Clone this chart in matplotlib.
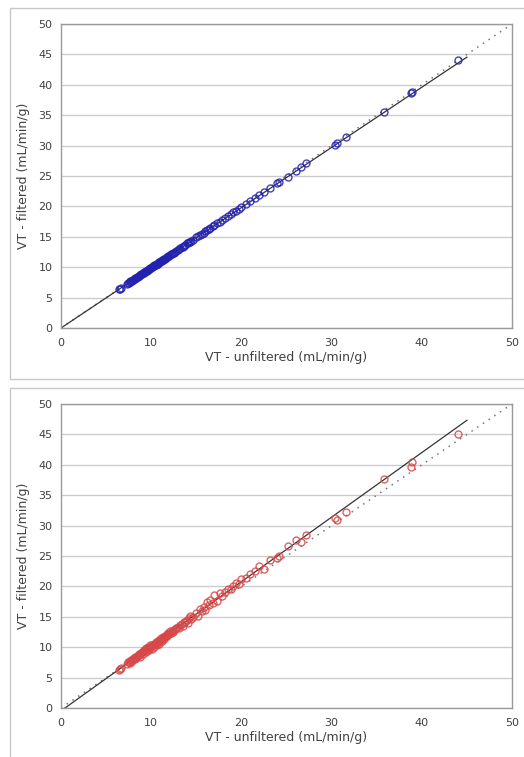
import matplotlib
matplotlib.use("Agg")
import matplotlib.pyplot as plt
from matplotlib.patches import Rectangle
import numpy as np

# Shared unfiltered VT values (x)
vt_unfiltered = [6.4, 6.5, 6.6, 7.3, 7.4, 7.5, 7.6, 7.7, 7.8, 7.9, 8.0, 8.1, 8.2, 8.25, 8.3, 8.4, 8.5, 8.6, 8.7, 8.75,
                 8.8, 8.9, 9.0, 9.1, 9.15, 9.2, 9.3, 9.4, 9.45, 9.5, 9.6, 9.7, 9.75, 9.8, 9.9, 10.0, 10.05, 10.1, 10.2, 10.3,
                 10.35, 10.4, 10.5, 10.6, 10.65, 10.7, 10.8, 10.85, 10.9, 11.0, 11.1, 11.15, 11.2, 11.3, 11.4, 11.45, 11.5, 11.6, 11.7, 11.8,
                 11.9, 12.0, 12.1, 12.2, 12.3, 12.4, 12.5, 12.6, 12.8, 13.0, 13.1, 13.2, 13.4, 13.5, 13.6, 13.8, 14.0, 14.1, 14.2, 14.3,
                 14.4, 14.6, 15.0, 15.2, 15.4, 15.6, 15.8, 16.0, 16.2, 16.4, 16.5, 16.8, 17.0, 17.3, 17.6, 17.9, 18.2, 18.5, 18.8, 19.1,
                 19.4, 19.7, 20.0, 20.5, 21.0, 21.5, 22.0, 22.5, 23.2, 24.0, 24.2, 25.2, 26.0, 26.6, 27.2, 30.4, 30.6, 31.6, 35.8, 38.8,
                 38.9, 44.0]

# Filtered VT values, top chart (blue)
vt_filtered_a = [6.35, 6.45, 6.55, 7.25, 7.35, 7.45, 7.5, 7.65, 7.75, 7.8, 7.95, 8.05, 8.1, 8.2, 8.25, 8.35, 8.4, 8.55, 8.6, 8.7,
                 8.75, 8.8, 8.95, 9.0, 9.1, 9.15, 9.2, 9.35, 9.4, 9.4, 9.55, 9.6, 9.7, 9.75, 9.8, 9.95, 10.0, 10.0, 10.15, 10.2,
                 10.3, 10.35, 10.4, 10.55, 10.6, 10.6, 10.75, 10.8, 10.85, 10.9, 11.0, 11.1, 11.15, 11.2, 11.35, 11.4, 11.4, 11.55, 11.6, 11.7,
                 11.85, 11.9, 12.0, 12.1, 12.2, 12.3, 12.4, 12.5, 12.7, 12.9, 13.0, 13.1, 13.3, 13.4, 13.5, 13.7, 13.9, 14.0, 14.1, 14.2,
                 14.3, 14.5, 14.9, 15.1, 15.3, 15.5, 15.7, 15.9, 16.1, 16.3, 16.4, 16.7, 16.9, 17.2, 17.5, 17.8, 18.1, 18.4, 18.7, 19.0,
                 19.3, 19.6, 19.9, 20.4, 20.9, 21.4, 21.9, 22.3, 23.0, 23.8, 24.0, 24.9, 25.9, 26.5, 27.1, 30.1, 30.5, 31.4, 35.6, 38.7,
                 38.8, 44.0]

# Filtered VT values, bottom chart (red)
vt_filtered_b = [6.3, 6.4, 6.5, 7.3, 7.5, 7.6, 7.4, 7.8, 7.9, 7.7, 8.1, 8.2, 8.4, 8.0, 8.3, 8.6, 8.5, 8.9, 8.7, 8.4,
                 8.9, 9.1, 9.2, 8.9, 9.5, 9.3, 9.6, 9.2, 9.9, 9.6, 9.8, 10.1, 9.5, 9.9, 10.3, 10.1, 9.7, 10.4, 10.3, 10.6,
                 10.0, 10.5, 10.8, 10.7, 10.3, 11.0, 10.9, 10.5, 11.2, 11.1, 11.5, 11.3, 11.0, 11.6, 11.7, 11.4, 11.9, 11.8, 12.2, 11.9,
                 12.3, 12.1, 12.6, 12.4, 12.7, 12.5, 12.9, 13.0, 13.2, 13.4, 13.1, 13.7, 13.8, 13.5, 14.2, 14.1, 14.5, 13.9, 14.8, 15.1,
                 14.6, 14.9, 15.6, 15.2, 16.3, 15.9, 16.6, 16.2, 17.4, 16.9, 17.8, 17.3, 18.6, 17.6, 18.9, 18.4, 19.0, 19.5, 19.6, 20.1,
                 20.6, 20.4, 21.2, 21.4, 22.0, 22.6, 23.3, 22.9, 24.4, 24.6, 25.0, 26.7, 27.6, 27.3, 28.5, 31.2, 30.9, 32.3, 37.7, 39.6,
                 40.4, 45.1]

# Linear trendlines (slope, intercept) and extent
fit_a = (0.99, 0.0)
fit_b = (1.062, -0.47)
fit_x_range = [0, 45]
identity_range = [0, 50]

ticks = [0, 5, 10, 15, 20, 25, 30, 35, 40, 45, 50]
xticks = [0, 10, 20, 30, 40, 50]

W, H = 524, 757
fig = plt.figure(figsize=(W / 100, H / 100), dpi=100)
fig.patch.set_facecolor("white")

# panel frames
for (x0, y0, x1, y1) in [(10, 8, 530, 379), (10, 388, 530, 770)]:
    fig.patches.append(Rectangle((x0 / W, 1 - y1 / H), (x1 - x0) / W, (y1 - y0) / H,
                                 transform=fig.transFigure, fill=False,
                                 edgecolor="#c8c8c8", linewidth=1.0))

def make(ax, yvals, color, fit):
    ax.set_xlim(0, 50)
    ax.set_ylim(0, 50)
    ax.set_yticks(ticks)
    ax.set_xticks(xticks)
    ax.yaxis.grid(True, color="#cccccc", linewidth=1.0)
    ax.set_axisbelow(True)
    for s in ax.spines.values():
        s.set_color("#9a9a9a")
        s.set_linewidth(1.0)
    ax.tick_params(axis="both", length=0, labelsize=8, colors="#404040")
    ax.tick_params(axis="x", pad=7)
    ax.tick_params(axis="y", pad=6)
    ax.plot(identity_range, identity_range, linestyle=(0, (1, 3.5)), color="#777777", linewidth=1.1)
    fx = np.array(fit_x_range, dtype=float)
    ax.plot(fx, fit[0] * fx + fit[1], color="#333333", linewidth=0.9)
    ax.plot(vt_unfiltered, yvals, linestyle="none", marker="o", markersize=5,
            markerfacecolor="none", markeredgecolor=color, markeredgewidth=1.0, alpha=0.85)
    ax.set_xlabel("VT - unfiltered (mL/min/g)", fontsize=9, color="#404040", labelpad=2)
    ax.set_ylabel("VT - filtered (mL/min/g)", fontsize=9, color="#404040", labelpad=6)

left = 61 / W
width = (512 - 61) / W
ax1 = fig.add_axes([left, 1 - 328 / H, width, (328 - 24) / H])
make(ax1, vt_filtered_a, "#2222b0", fit_a)
ax2 = fig.add_axes([left, 1 - 708 / H, width, (708 - 404) / H])
make(ax2, vt_filtered_b, "#d84848", fit_b)

fig.savefig("out.png", dpi=100, facecolor="white")
